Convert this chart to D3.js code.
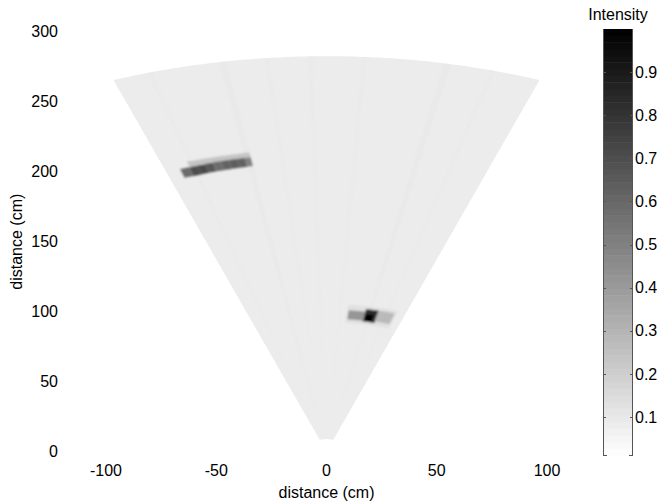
<!DOCTYPE html>
<html><head><meta charset="utf-8">
<script src="https://cdn.jsdelivr.net/npm/d3@7"></script>
<style>
body{margin:0;background:#fff;}
svg text{font-family:"Liberation Sans",Arial,Helvetica,sans-serif;fill:#000;}
</style>
</head><body>
<svg id="chart" width="658" height="504"></svg>
<script>
// ---------------- data ----------------
const xTicks = [-100, -50, 0, 50, 100];
const yTicks = [0, 50, 100, 150, 200, 250, 300];
const cbTicks = [0.1, 0.2, 0.3, 0.4, 0.5, 0.6, 0.7, 0.8, 0.9];
const xLabel = "distance (cm)";
const yLabel = "distance (cm)";
const cbTitle = "Intensity";
const colorLimits = [0.012, 1.0];

// sonar fan (polar field of view), angles in degrees from the +y axis
const fanAngles = [-20, 20];
const fanRanges = [9, 282.5];
const backgroundIntensity = 0.085;

// faint radial streaks in the background
const streakAngles    = [-16.5, -9.6, -5.5, -1.5, 3.5, 11.2, 15.5];
const streakWidths    = [0.5, 0.7, 0.4, 0.4, 0.4, 0.7, 0.4];
const streakIntensity = [0.093, 0.098, 0.092, 0.092, 0.092, 0.098, 0.092];

// target echo cells (polar): angle start/end (deg), range start/end (cm), intensity
const cellAngle0    = [-17.0, -18.2, -17.0, -16.0, -15.0, -14.0, -13.0, -12.0, -11.0, -10.0,   5.4,  5.7, 10.0, 10.3, 13.2];
const cellAngle1    = [ -9.3, -17.0, -16.0, -15.0, -14.0, -13.0, -12.0, -11.0, -10.0,  -9.3,  17.8, 10.0, 13.3, 12.4, 17.4];
const cellRange0    = [212.0, 206.0, 206.0, 206.2, 206.3, 206.4, 206.5, 206.6, 206.7, 206.8,  92.5, 95.0, 94.5, 95.0, 95.5];
const cellRange1    = [216.5, 212.5, 212.5, 212.6, 212.8, 213.0, 213.0, 213.0, 213.0, 213.0, 105.5, 101.5, 103.5, 100.0, 103.5];
const cellIntensity = [ 0.24,  0.58,  0.70,  0.72,  0.66,  0.58,  0.62,  0.64,  0.62,  0.50,  0.13, 0.42, 0.82, 1.00, 0.28];

// ---------------- drawing ----------------
const svg = d3.select("#chart");
const x = d3.scaleLinear().domain([-100, 100]).range([106, 547]);
const y = d3.scaleLinear().domain([0, 300]).range([451.7, 31.7]);
const color = d3.scaleLinear().domain(colorLimits).range(["#ffffff", "#000000"]).clamp(true);
const rad = d => d * Math.PI / 180;

function sector(a0, a1, r0, r1) {
  const n = Math.max(2, Math.ceil(Math.abs(a1 - a0) * 2));
  const pts = [];
  for (let i = 0; i <= n; i++) {
    const a = rad(a0 + (a1 - a0) * i / n);
    pts.push([x(r1 * Math.sin(a)), y(r1 * Math.cos(a))]);
  }
  for (let i = n; i >= 0; i--) {
    const a = rad(a0 + (a1 - a0) * i / n);
    pts.push([x(r0 * Math.sin(a)), y(r0 * Math.cos(a))]);
  }
  return d3.line()(pts) + "Z";
}

const defs = svg.append("defs");
defs.append("filter").attr("id", "soft").attr("x", "-20%").attr("y", "-50%").attr("width", "140%").attr("height", "200%")
  .append("feGaussianBlur").attr("stdDeviation", 1.1);
defs.append("filter").attr("id", "soft2")
  .append("feGaussianBlur").attr("stdDeviation", 1.0);
defs.append("clipPath").attr("id", "fanClip")
  .append("path").attr("d", sector(fanAngles[0], fanAngles[1], fanRanges[0], fanRanges[1]));

// fan background
svg.append("path")
  .attr("d", sector(fanAngles[0], fanAngles[1], fanRanges[0], fanRanges[1]))
  .attr("fill", color(backgroundIntensity));

// streaks
svg.append("g").attr("clip-path", "url(#fanClip)").attr("filter", "url(#soft2)")
  .selectAll("path").data(streakAngles).join("path")
  .attr("d", (a, i) => sector(a - streakWidths[i] / 2, a + streakWidths[i] / 2, fanRanges[0] + 20, fanRanges[1]))
  .attr("fill", (a, i) => color(streakIntensity[i]));

// target cells
svg.append("g").attr("filter", "url(#soft)")
  .selectAll("path").data(cellIntensity).join("path")
  .attr("d", (v, i) => sector(cellAngle0[i], cellAngle1[i], cellRange0[i], cellRange1[i]))
  .attr("fill", v => color(v));

// axes: tick labels only
svg.append("g").selectAll("text").data(xTicks).join("text")
  .attr("x", d => x(d)).attr("y", 470).attr("dy", "0.35em")
  .attr("text-anchor", "middle").attr("font-size", 16)
  .text(d => d);
svg.append("g").selectAll("text").data(yTicks).join("text")
  .attr("x", 58).attr("y", d => y(d)).attr("dy", "0.35em")
  .attr("text-anchor", "end").attr("font-size", 16)
  .text(d => d);
svg.append("text").attr("x", x(0)).attr("y", 492).attr("dy", "0.35em")
  .attr("text-anchor", "middle").attr("font-size", 16).text(xLabel);
svg.append("text").attr("transform", `translate(16,${y(150)}) rotate(-90)`).attr("dy", "0.35em")
  .attr("text-anchor", "middle").attr("font-size", 16).text(yLabel);

// colorbar
const cy = d3.scaleLinear().domain(colorLimits).range([455, 29]);
const cbX = 603, cbW = 30;
const levels = d3.range(64).map(i => colorLimits[0] + (colorLimits[1] - colorLimits[0]) * (i + 0.5) / 64);
const step = (colorLimits[1] - colorLimits[0]) / 64;
svg.append("g").selectAll("rect").data(levels).join("rect")
  .attr("x", cbX).attr("width", cbW)
  .attr("y", d => cy(d + step / 2)).attr("height", d => cy(d - step / 2) - cy(d + step / 2) + 0.5)
  .attr("fill", d => color(d));
const cb = svg.append("g").attr("stroke", "#555").attr("stroke-width", 1).attr("fill", "none");
cb.append("line").attr("x1", cbX + 0.5).attr("x2", cbX + 0.5).attr("y1", cy(colorLimits[1])).attr("y2", cy(colorLimits[0]));
cb.append("line").attr("x1", cbX + cbW - 0.5).attr("x2", cbX + cbW - 0.5).attr("y1", cy(colorLimits[1])).attr("y2", cy(colorLimits[0]));
cb.append("line").attr("x1", cbX).attr("x2", cbX + 4).attr("y1", cy(colorLimits[0]) + 0.5).attr("y2", cy(colorLimits[0]) + 0.5);
cb.append("line").attr("x1", cbX + cbW - 4).attr("x2", cbX + cbW).attr("y1", cy(colorLimits[0]) + 0.5).attr("y2", cy(colorLimits[0]) + 0.5);
cb.selectAll(".tl").data(cbTicks).join("line").attr("class", "tl")
  .attr("x1", cbX).attr("x2", cbX + 3).attr("y1", d => Math.round(cy(d)) + 0.5).attr("y2", d => Math.round(cy(d)) + 0.5);
cb.selectAll(".tr").data(cbTicks).join("line").attr("class", "tr")
  .attr("x1", cbX + cbW - 3).attr("x2", cbX + cbW).attr("y1", d => Math.round(cy(d)) + 0.5).attr("y2", d => Math.round(cy(d)) + 0.5);
svg.append("g").selectAll("text").data(cbTicks).join("text")
  .attr("x", cbX + cbW + 2).attr("y", d => cy(d)).attr("dy", "0.35em")
  .attr("font-size", 16).text(d => d.toFixed(1));
svg.append("text").attr("x", cbX + cbW / 2).attr("y", 14).attr("dy", "0.35em")
  .attr("text-anchor", "middle").attr("font-size", 16).text(cbTitle);
</script>
</body></html>
